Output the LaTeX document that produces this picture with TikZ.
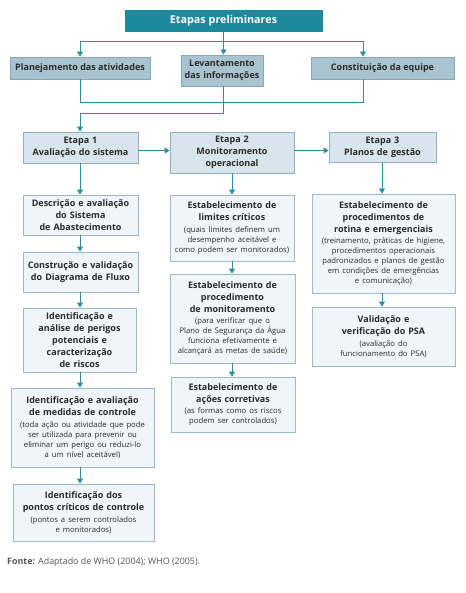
\documentclass[tikz,border=0pt]{standalone}
\usepackage{fontspec}
\setmainfont{Open Sans}
\usetikzlibrary{arrows.meta,calc}
\definecolor{topfill}{HTML}{1A8A9C}
\definecolor{rowfill}{HTML}{A9C3D0}
\definecolor{rowdraw}{HTML}{86A7B7}
\definecolor{etfill}{HTML}{D8E5EC}
\definecolor{etdraw}{HTML}{8FB0BE}
\definecolor{cfill}{HTML}{EFF5F8}
\definecolor{cdraw}{HTML}{9CBAC6}
\definecolor{linec}{HTML}{2E8FA3}
\definecolor{txt}{HTML}{2A2A2A}
\definecolor{srcc}{HTML}{555555}
\newcommand\btxt{\fontsize{9}{12}\selectfont\bfseries}
\newcommand\stxt{\fontsize{7.7}{10}\selectfont\mdseries}
\newcommand\smallpart[1]{\par\vspace{1.5pt}{\stxt #1\par}}
\begin{document}
\begin{tikzpicture}[x=1pt,y=-1pt,
  basebox/.style={rectangle,inner sep=0pt,align=center,text=txt,line width=0.8pt},
  topbox/.style={basebox,fill=topfill,draw=topfill,text=white,font=\fontsize{10.8}{13}\selectfont\bfseries},
  rowbox/.style={basebox,fill=rowfill,draw=rowdraw,font=\btxt},
  etbox/.style={basebox,fill=etfill,draw=etdraw,font=\btxt},
  cbox/.style={basebox,fill=cfill,draw=cdraw,font=\btxt},
  conn/.style={draw=linec,line width=0.8pt},
  arr/.style={conn,-{Triangle[width=6pt,length=5pt]}}
]
\useasboundingbox (0,0) rectangle (465,593);
\fill[white] (0,0) rectangle (465,593);

% top rows
\node[topbox,minimum width=197pt,minimum height=21pt] (top) at (223.5,20.5) {Etapas preliminares};
\node[rowbox,minimum width=140pt,minimum height=22pt] (plan) at (80,68) {Planejamento das atividades};
\node[rowbox,minimum width=82pt,minimum height=31pt,text width=80pt] (lev) at (222,70.5) {Levantamento\\das informações};
\node[rowbox,minimum width=143pt,minimum height=22pt] (const) at (382.5,68) {Constituição da equipe};

% etapas
\node[etbox,minimum width=115pt,minimum height=31pt,text width=111pt] (e1) at (80.5,147.5) {Etapa 1\\Avaliação do sistema};
\node[etbox,minimum width=124pt,minimum height=41pt,text width=120pt] (e2) at (232,152.5) {Etapa 2\\Monitoramento\\operacional};
\node[etbox,minimum width=107pt,minimum height=30pt,text width=103pt] (e3) at (382.5,147) {Etapa 3\\Planos de gestão};

% column 1
\node[cbox,minimum width=115pt,minimum height=40pt,text width=113pt] (d1) at (80.5,215) {Descrição e avaliação\\do Sistema\\de Abastecimento};
\node[cbox,minimum width=115pt,minimum height=40pt,text width=113pt] (d2) at (80.5,272) {Construção e validação\\do Diagrama de Fluxo};
\node[cbox,minimum width=113pt,minimum height=64pt,text width=109pt] (d3) at (79.5,340) {Identificação e\\análise de perigos\\potenciais e\\caracterização\\de riscos};
\node[cbox,minimum width=143pt,minimum height=79pt,text width=141pt] (d4) at (82.5,427.5) {Identificação e avaliação\\de medidas de controle\smallpart{(toda ação ou atividade que pode\\ser utilizada para prevenir ou\\eliminar um perigo ou reduzi-lo\\a um nível aceitável)}};
\node[cbox,minimum width=141pt,minimum height=57pt,text width=139pt] (d5) at (83.5,512.5) {Identificação dos\\pontos críticos de controle\smallpart{(pontos a serem controlados\\e monitorados)}};

% column 2
\node[cbox,minimum width=124pt,minimum height=66pt,text width=122pt] (m1) at (232,228) {Estabelecimento de\\limites críticos\smallpart{(quais limites definem um\\desempenho aceitável e\\como podem ser monitorados)}};
\node[cbox,minimum width=125pt,minimum height=89pt,text width=123pt] (m2) at (232.5,318.5) {Estabelecimento de\\procedimento\\de monitoramento\smallpart{(para verificar que o\\Plano de Segurança da Água\\funciona efetivamente e\\alcançará as metas de saúde)}};
\node[cbox,minimum width=124pt,minimum height=55pt,text width=122pt] (m3) at (233,404.5) {Estabelecimento de\\ações corretivas\smallpart{(as formas como os riscos\\podem ser controlados)}};

% column 3
\node[cbox,minimum width=143pt,minimum height=99pt,text width=141pt] (g1) at (383.5,243.5) {Estabelecimento de\\procedimentos de\\rotina e emergenciais\smallpart{(treinamento, práticas de higiene,\\procedimentos operacionais\\padronizados e planos de gestão\\em condições de emergências\\e comunicação)}};
\node[cbox,minimum width=143pt,minimum height=59pt,text width=141pt] (g2) at (383.5,336.5) {Validação e\\verificação do PSA\smallpart{(avaliação do\\funcionamento do PSA)}};

% source
\node[anchor=west,inner sep=0pt,text=srcc,font=\fontsize{8.9}{11}\selectfont] (src) at (7,562) {\textbf{Fonte:} Adaptado de WHO (2004); WHO (2005).};

% helper coordinates
\coordinate (c1) at (80,0);
\coordinate (c2) at (232,0);
\coordinate (c3) at (382,0);
\coordinate (h1) at (80,41);
\coordinate (h2) at (363,41);
\coordinate (b1) at (80,102);
\coordinate (b2) at (363,102);
\coordinate (bj) at (223,113);
\coordinate (bk) at (80,113);
\coordinate (ya) at (0,150.5);

% top connectors
\draw[arr] (top.south) -- (top.south |- lev.north);
\draw[conn] (h1) -- (h2);
\draw[arr] (h1) -- (plan.north -| h1);
\draw[arr] (h2) -- (const.north -| h2);
\draw[conn] (plan.south -| b1) -- (b1) -- (b2) -- (const.south -| b2);
\draw[arr] (lev.south -| bj) -- (bj) -- (bk) -- (e1.north -| bk);

% etapa connectors
\draw[arr] (e1.east |- ya) -- (e2.west |- ya);
\draw[arr] (e2.east |- ya) -- (e3.west |- ya);

% column connectors
\draw[arr] (e1.south -| c1) -- (d1.north -| c1);
\draw[arr] (d1.south -| c1) -- (d2.north -| c1);
\draw[arr] (d2.south -| c1) -- (d3.north -| c1);
\draw[arr] (d3.south -| c1) -- (d4.north -| c1);
\draw[arr] (d4.south -| c1) -- (d5.north -| c1);
\draw[arr] (e2.south -| c2) -- (m1.north -| c2);
\draw[arr] (m1.south -| c2) -- (m2.north -| c2);
\draw[arr] (m2.south -| c2) -- (m3.north -| c2);
\draw[arr] (e3.south -| c3) -- (g1.north -| c3);
\draw[arr] (g1.south -| c3) -- (g2.north -| c3);
\end{tikzpicture}
\end{document}
